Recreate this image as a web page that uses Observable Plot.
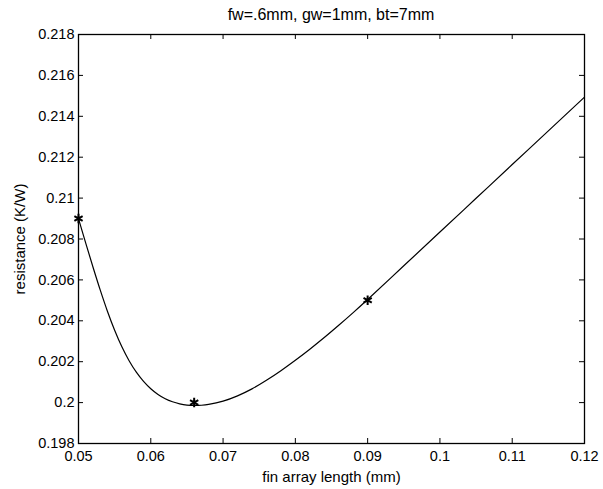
<!DOCTYPE html>
<html>
<head>
<meta charset="utf-8">
<script src="https://cdn.jsdelivr.net/npm/d3@7"></script>
<script src="https://cdn.jsdelivr.net/npm/@observablehq/plot@0.6"></script>
<style>
  html, body { margin: 0; padding: 0; background: #fff; }
  #title { height: 24px; box-sizing: border-box; padding-top: 6px; line-height: 18px; margin-left: 78px; width: 506px;
           text-align: center; white-space: nowrap;
           font-family: "Liberation Sans", Arial, Helvetica, sans-serif; font-size: 16px; color: #000; }
</style>
</head>
<body>
<div id="title">fw=.6mm, gw=1mm, bt=7mm</div>
<div id="chart"></div>
<script>
// Curve samples (fin array length, resistance)
const curveX = [0.050, 0.051, 0.052, 0.053, 0.054, 0.055, 0.056, 0.057, 0.058, 0.059, 0.060, 0.061, 0.062, 0.063, 0.064, 0.065, 0.066, 0.067, 0.068, 0.070, 0.072, 0.074, 0.076, 0.078, 0.080, 0.082, 0.084, 0.086, 0.088, 0.090, 0.095, 0.100, 0.105, 0.110, 0.115, 0.120];
const curveY = [0.20900, 0.20780, 0.20663, 0.20551, 0.20447, 0.20354, 0.20273, 0.20205, 0.20149, 0.20104, 0.20068, 0.20040, 0.20019, 0.20004, 0.19994, 0.19988, 0.19986, 0.19987, 0.19991, 0.20007, 0.20033, 0.20067, 0.20109, 0.20156, 0.20207, 0.20261, 0.20318, 0.20378, 0.20440, 0.20504, 0.20669, 0.20834, 0.20999, 0.21164, 0.21329, 0.21494];
// Marked points
const markX = [0.05, 0.066, 0.09];
const markY = [0.209, 0.200, 0.205];
// Ticks
const xTicks = [0.05, 0.06, 0.07, 0.08, 0.09, 0.10, 0.11, 0.12];
const xTickLabels = ["0.05", "0.06", "0.07", "0.08", "0.09", "0.1", "0.11", "0.12"];
const yTicks = [0.198, 0.200, 0.202, 0.204, 0.206, 0.208, 0.210, 0.212, 0.214, 0.216, 0.218];
const yTickLabels = ["0.198", "0.2", "0.202", "0.204", "0.206", "0.208", "0.21", "0.212", "0.214", "0.216", "0.218"];

const curve = curveX.map((x, i) => ({x, y: curveY[i]}));
const marks = markX.map((x, i) => ({x, y: markY[i]}));

const W = 603, H = 465;
const mL = 78, mR = 19, mT = 10, mB = 46;
const innerW = W - mL - mR, innerH = H - mT - mB;
const tickLen = 5;
const asterisk = d3.symbolAsterisk || d3.symbolCross;

const chart = Plot.plot({
  width: W, height: H,
  marginLeft: mL, marginRight: mR, marginTop: mT, marginBottom: mB,
  style: {fontFamily: '"Liberation Sans", Arial, Helvetica, sans-serif', fontSize: "14.5px", color: "#000", background: "transparent", overflow: "visible"},
  x: {domain: [0.05, 0.12]},
  y: {domain: [0.198, 0.218]},
  marks: [
    Plot.axisX({anchor: "bottom", ticks: xTicks, tickSize: 0, tickPadding: 7,
      tickFormat: (d, i) => xTickLabels[i], fontSize: 14.5, label: null}),
    Plot.axisX({anchor: "bottom", ticks: [], tickSize: 0, fontSize: 15,
      label: "fin array length (mm)", labelAnchor: "center", labelArrow: "none", labelOffset: 38.5}),
    Plot.axisY({anchor: "left", ticks: yTicks, tickSize: 0, tickPadding: 4,
      tickFormat: (d, i) => yTickLabels[i], fontSize: 14.5, label: null}),
    Plot.axisY({anchor: "left", ticks: [], tickSize: 0, fontSize: 15,
      label: "resistance (K/W)", labelAnchor: "center", labelArrow: "none", labelOffset: 64}),
    // inward tick marks on all four sides
    Plot.tickX(xTicks, {x: d => d, insetTop: innerH - tickLen, stroke: "#000"}),
    Plot.tickX(xTicks, {x: d => d, insetBottom: innerH - tickLen, stroke: "#000"}),
    Plot.tickY(yTicks, {y: d => d, insetRight: innerW - tickLen, stroke: "#000"}),
    Plot.tickY(yTicks, {y: d => d, insetLeft: innerW - tickLen, stroke: "#000"}),
    Plot.line(curve, {x: "x", y: "y", curve: "catmull-rom", stroke: "#000", strokeWidth: 1.2}),
    Plot.dot(marks, {x: "x", y: "y", symbol: asterisk, r: 4.5, stroke: "#000", strokeWidth: 2}),
    Plot.frame({stroke: "#000", strokeWidth: 1.3})
  ]
});
document.getElementById("chart").appendChild(chart);
</script>
</body>
</html>
